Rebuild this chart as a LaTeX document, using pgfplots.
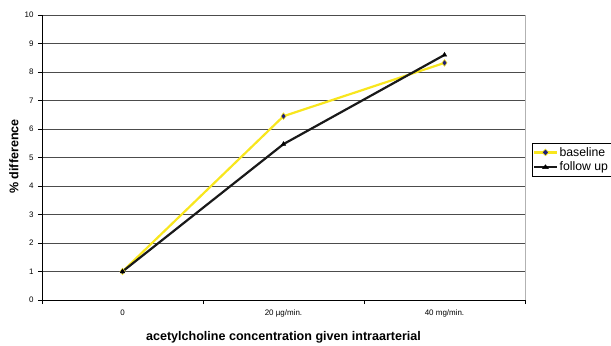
\documentclass[border=0pt]{standalone}
\usepackage{fontspec}
\setmainfont{Liberation Sans}
\usepackage{pgfplots}
\pgfplotsset{compat=1.18}

\definecolor{baseyellow}{RGB}{248,230,30}
\definecolor{basemark}{RGB}{30,30,120}

\begin{document}
\begin{tikzpicture}[x=1bp,y=1bp]
\path[use as bounding box] (-42,-45) rectangle (569,300);
\begin{axis}[
  at={(0,0)}, anchor=south west,
  scale only axis,
  width=483bp, height=285bp,
  xmin=-0.5, xmax=2.5,
  ymin=0, ymax=10,
  ytick={0,1,...,10},
  xtick={0,1,2},
  xticklabels={0, 20 µg/min., 40 mg/min.},
  minor xtick={-0.5,0.5,1.5,2.5},
  major x tick style={draw=none},
  minor tick length=4bp,
  major tick length=4bp,
  tick align=outside,
  axis x line*=bottom,
  axis y line*=left,
  axis line style={black, line width=0.8bp, -},
  ymajorgrids,
  major grid style={black!70, line width=0.7bp},
  ytick style={black, line width=0.7bp},
  minor x tick style={black, line width=0.7bp},
  /pgf/number format/assume math mode=true,
  tick label style={font=\fontsize{8}{9}\selectfont},
  xticklabel style={yshift=-2bp},
  yticklabel style={xshift=-1bp},
  xlabel={\fontsize{12.6}{14}\selectfont\bfseries acetylcholine concentration given intraarterial},
  ylabel={\fontsize{12.6}{14}\selectfont\bfseries \% difference},
  xlabel style={at={(axis description cs:0.5,0)}, anchor=center, yshift=-37bp},
  ylabel style={at={(axis description cs:-0.058,0.503)}, anchor=center},
  legend style={at={(1.0145,0.551)}, anchor=north west,
    draw=black, line width=0.6bp,
    font=\fontsize{12.3}{14}\selectfont,
    inner xsep=1bp, inner ysep=2bp, row sep=0.5bp,
    legend cell align=left},
  legend image post style={xscale=1.3},
  clip=false,
]
\draw[black!30, line width=0.7bp] (rel axis cs:1,0) -- (rel axis cs:1,1);
\addplot[baseyellow, line width=2.2bp, mark=diamond*,
  mark options={fill=basemark, draw=baseyellow, scale=1.7, line width=0.5bp}]
  coordinates {(0,1.0) (1,6.45) (2,8.32)};
\addlegendentry{baseline}
\addplot[black!90, line width=2.2bp, mark=triangle*,
  mark options={fill=black, draw=black, scale=1.3, line width=0.4bp}]
  coordinates {(0,1.0) (1,5.47) (2,8.6)};
\addlegendentry{follow up}
\end{axis}
\end{tikzpicture}
\end{document}
